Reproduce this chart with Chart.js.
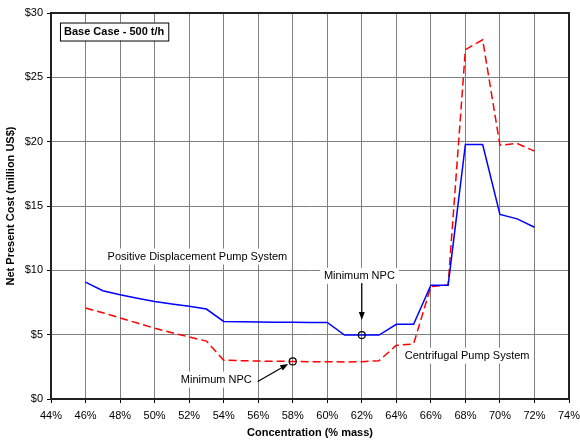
<!DOCTYPE html>
<html>
<head>
<meta charset="utf-8">
<script src="https://cdn.jsdelivr.net/npm/chart.js@4"></script>
<style>
  html, body { margin: 0; padding: 0; background: #fff; }
  #wrap { width: 580px; height: 441px; }
</style>
</head>
<body>
<div id="wrap"><canvas id="npc" width="580" height="441"></canvas></div>
<script>
const concentrations = [46, 47, 48, 49, 50, 51, 52, 53, 54, 55, 56, 57, 58, 59, 60, 61, 62, 63, 64, 65, 66, 67, 68, 69, 70, 71, 72];
const pdPumpCost = [9.08, 8.41, 8.10, 7.83, 7.58, 7.38, 7.20, 6.99, 6.03, 6.00, 5.98, 5.97, 5.96, 5.95, 5.95, 4.97, 4.97, 4.97, 5.80, 5.80, 8.85, 8.85, 19.78, 19.78, 14.35, 14.00, 13.35];
const centrifugalCost = [7.07, 6.70, 6.30, 5.90, 5.50, 5.15, 4.82, 4.50, 3.02, 2.98, 2.95, 2.93, 2.92, 2.90, 2.90, 2.88, 2.90, 2.98, 4.17, 4.28, 8.74, 8.87, 27.15, 27.92, 19.73, 19.86, 19.26];
const xTicks = [44, 46, 48, 50, 52, 54, 56, 58, 60, 62, 64, 66, 68, 70, 72, 74];
const yTicks = [0, 5, 10, 15, 20, 25, 30];

const FONT = 'Arial, "Liberation Sans", sans-serif';

function toPoints(values) {
    return concentrations.map((c, i) => ({ x: c, y: values[i] }));
}

// labels, arrows and markers drawn on top of the chart
const annotations = {
    id: 'annotations',
    beforeDatasetsDraw(chart) {
        const { ctx, scales: { x, y } } = chart;
        ctx.save();
        ctx.font = '11px ' + FONT;
        ctx.textAlign = 'center';
        ctx.textBaseline = 'middle';
        const labels = [
            { text: 'Positive Displacement Pump System', x: 52.48, y: 11.07 },
            { text: 'Minimum NPC', x: 61.86, y: 9.57 },
            { text: 'Minimum NPC', x: 53.57, y: 1.51 },
            { text: 'Centrifugal Pump System', x: 68.1, y: 3.37 }
        ];
        labels.forEach(l => {
            const px = x.getPixelForValue(l.x);
            const py = y.getPixelForValue(l.y);
            const w = ctx.measureText(l.text).width;
            ctx.fillStyle = '#fff';
            ctx.fillRect(px - w / 2 - 4, py - 8, w + 8, 16);
            ctx.fillStyle = '#000';
            ctx.fillText(l.text, px, py);
        });

        // Base case box
        const bx = x.getPixelForValue(44.52);
        const by = y.getPixelForValue(29.26);
        ctx.font = 'bold 11px ' + FONT;
        ctx.textAlign = 'left';
        const bt = 'Base Case - 500 t/h';
        const bw = ctx.measureText(bt).width + 8;
        ctx.fillStyle = '#fff';
        ctx.fillRect(bx, by, bw, 18);
        ctx.strokeStyle = '#000';
        ctx.lineWidth = 1;
        ctx.strokeRect(bx + 0.5, by + 0.5, bw, 18);
        ctx.fillStyle = '#000';
        ctx.fillText(bt, bx + 4, by + 9.5);
        ctx.restore();
    },
    afterDatasetsDraw(chart) {
        const { ctx, chartArea, scales: { x, y } } = chart;
        ctx.save();

        // frame round the plot area
        ctx.strokeStyle = '#222';
        ctx.lineWidth = 2;
        ctx.strokeRect(chartArea.left, chartArea.top, chartArea.right - chartArea.left, chartArea.bottom - chartArea.top);

        const arrow = (x1, y1, x2, y2) => {
            const a = Math.atan2(y2 - y1, x2 - x1);
            ctx.strokeStyle = '#000';
            ctx.fillStyle = '#000';
            ctx.lineWidth = 1.2;
            ctx.beginPath();
            ctx.moveTo(x1, y1);
            ctx.lineTo(x2 - 6 * Math.cos(a), y2 - 6 * Math.sin(a));
            ctx.stroke();
            ctx.beginPath();
            ctx.moveTo(x2, y2);
            ctx.lineTo(x2 - 8 * Math.cos(a) + 3 * Math.sin(a), y2 - 8 * Math.sin(a) - 3 * Math.cos(a));
            ctx.lineTo(x2 - 8 * Math.cos(a) - 3 * Math.sin(a), y2 - 8 * Math.sin(a) + 3 * Math.cos(a));
            ctx.closePath();
            ctx.fill();
        };

        const circle = (cx, cy) => {
            ctx.strokeStyle = '#000';
            ctx.lineWidth = 1.2;
            ctx.beginPath();
            ctx.arc(cx, cy, 3.5, 0, Math.PI * 2);
            ctx.stroke();
        };

        // minimum of PD system at 62%
        const i62 = concentrations.indexOf(62);
        const ux = x.getPixelForValue(62);
        const uy = y.getPixelForValue(pdPumpCost[i62]);
        circle(ux, uy);
        arrow(ux, uy - 52, ux, uy - 15);

        // minimum of centrifugal system at 58%
        const i58 = concentrations.indexOf(58);
        const lx = x.getPixelForValue(58);
        const ly = y.getPixelForValue(centrifugalCost[i58]);
        circle(lx, ly);
        arrow(lx - 35, ly + 20, lx - 4.5, ly + 2.5);

        ctx.restore();
    }
};

new Chart(document.getElementById('npc'), {
    type: 'line',
    data: {
        datasets: [{
            label: 'Positive Displacement Pump System',
            data: toPoints(pdPumpCost),
            borderColor: '#0000ff',
            borderWidth: 1.5,
            pointRadius: 0,
            tension: 0,
            fill: false
        }, {
            label: 'Centrifugal Pump System',
            data: toPoints(centrifugalCost),
            borderColor: '#ff0000',
            borderWidth: 1.5,
            borderDash: [8, 4],
            pointRadius: 0,
            tension: 0,
            fill: false
        }]
    },
    options: {
        responsive: false,
        animation: false,
        layout: { padding: { left: 0, right: 11, top: 13, bottom: 0 } },
        plugins: {
            legend: { display: false },
            tooltip: { enabled: false }
        },
        scales: {
            x: {
                type: 'linear',
                min: 44,
                max: 74,
                afterBuildTicks(scale) { scale.ticks = xTicks.map(v => ({ value: v })); },
                afterFit(scale) {
                    scale.height = 42;
                    scale.paddingLeft = 0;
                    scale.paddingRight = 0;
                },
                grid: { color: '#808080', lineWidth: 1, drawTicks: true, tickLength: 4, tickColor: '#000' },
                border: { color: '#000', width: 2 },
                ticks: {
                    color: '#000',
                    padding: 6,
                    maxRotation: 0,
                    font: { family: FONT, size: 11 },
                    callback: v => v + '%'
                },
                title: {
                    display: true,
                    text: 'Concentration (% mass)',
                    color: '#000',
                    font: { family: FONT, size: 11, weight: 'bold' },
                    padding: { top: 0, bottom: 1 }
                }
            },
            y: {
                min: 0,
                max: 30,
                afterBuildTicks(scale) { scale.ticks = yTicks.map(v => ({ value: v })); },
                afterFit(scale) {
                    scale.width = 51;
                    scale.paddingTop = 0;
                    scale.paddingBottom = 0;
                },
                grid: { color: '#808080', lineWidth: 1, drawTicks: true, tickLength: 4, tickColor: '#000' },
                border: { color: '#000', width: 2 },
                ticks: {
                    color: '#000',
                    padding: 4,
                    font: { family: FONT, size: 11 },
                    callback: v => '$' + v
                },
                title: {
                    display: true,
                    text: 'Net Present Cost (million US$)',
                    color: '#000',
                    font: { family: FONT, size: 11, weight: 'bold' },
                    padding: { top: 4, bottom: 0 }
                }
            }
        }
    },
    plugins: [annotations]
});
</script>
</body>
</html>
